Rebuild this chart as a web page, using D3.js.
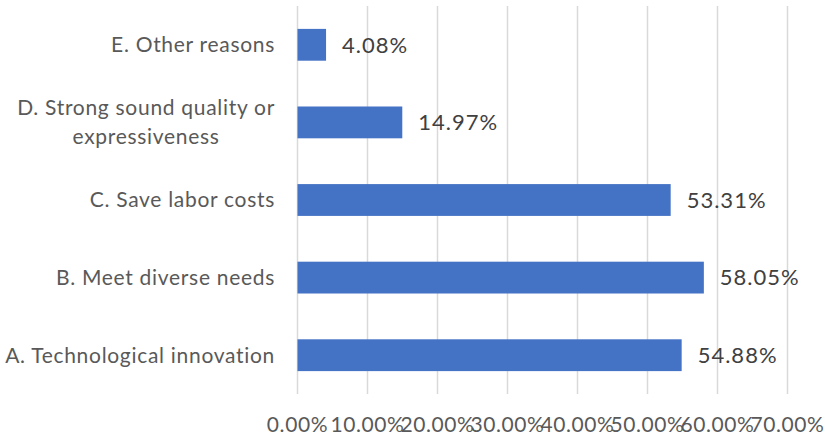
<!DOCTYPE html>
<html>
<head>
<meta charset="utf-8">
<script src="https://cdn.jsdelivr.net/npm/d3@7"></script>
<style>
  body { margin: 0; background: #fff; }
  svg { display: block; font-family: Lato, "Open Sans", sans-serif; }
</style>
</head>
<body>
<svg id="chart"></svg>
<script>
width = 825;
height = 440;

// data, bottom to top as in the picture
var categories = ['A. Technological innovation', 'B. Meet diverse needs', 'C. Save labor costs',
  'D. Strong sound quality or expressiveness', 'E. Other reasons'];
var labelLines = [['A. Technological innovation'], ['B. Meet diverse needs'], ['C. Save labor costs'],
  ['D. Strong sound quality or', 'expressiveness'], ['E. Other reasons']];
var values = [54.88, 58.05, 53.31, 14.97, 4.08];
var ticks = [0, 10, 20, 30, 40, 50, 60, 70];

var plotLeft = 297.5, plotRight = 787.5, plotTop = 6, plotBottom = 394;
var labelRight = 275;

var svg = d3.select('#chart').attr('width', width).attr('height', height);

var x = d3.scaleLinear().domain([0, 70]).range([plotLeft, plotRight]);
var y = d3.scaleBand().domain(categories.slice().reverse()).range([plotTop, plotBottom])
  .paddingInner(0.59).paddingOuter(0.295);

// gridlines
svg.append('g').selectAll('line').data(ticks).join('line')
  .attr('x1', d => x(d)).attr('x2', d => x(d))
  .attr('y1', plotTop).attr('y2', plotBottom)
  .attr('stroke', '#d9d9d9').attr('stroke-width', 1.5);

// bars
svg.append('g').selectAll('rect').data(values).join('rect')
  .attr('x', x(0))
  .attr('y', (d, i) => y(categories[i]))
  .attr('width', d => x(d) - x(0))
  .attr('height', y.bandwidth())
  .attr('fill', '#4472C4');

// value labels
svg.append('g').selectAll('text').data(values).join('text')
  .attr('x', d => x(d) + 16)
  .attr('y', (d, i) => y(categories[i]) + y.bandwidth() / 2)
  .attr('dy', '0.35em')
  .attr('font-size', 22)
  .attr('letter-spacing', 1)
  .attr('fill', '#404040')
  .text(d => d.toFixed(2) + '%');

// category labels: wrapped lines are centred on each other, block right-aligned
var cat = svg.append('g').selectAll('text').data(categories).join('text')
  .attr('text-anchor', 'middle')
  .attr('font-size', 21)
  .attr('letter-spacing', 0.7)
  .attr('fill', '#595959');
cat.each(function(d, i){
  var lines = labelLines[i];
  var t = d3.select(this);
  lines.forEach((l, j) => {
    t.append('tspan')
      .attr('x', 0)
      .attr('y', (j - (lines.length - 1) / 2) * 29)
      .attr('dy', '0.35em')
      .text(l);
  });
  var w = d3.max(t.selectAll('tspan').nodes(), n => n.getComputedTextLength());
  t.attr('transform', `translate(${labelRight - w / 2}, ${y(d) + y.bandwidth() / 2})`);
});

// x axis tick labels
svg.append('g').selectAll('text').data(ticks).join('text')
  .attr('x', d => x(d))
  .attr('y', 425)
  .attr('dy', '0.35em')
  .attr('text-anchor', 'middle')
  .attr('font-size', 21)
  .attr('letter-spacing', 0.6)
  .attr('fill', '#595959')
  .text(d => d.toFixed(2) + '%');
</script>
</body>
</html>
